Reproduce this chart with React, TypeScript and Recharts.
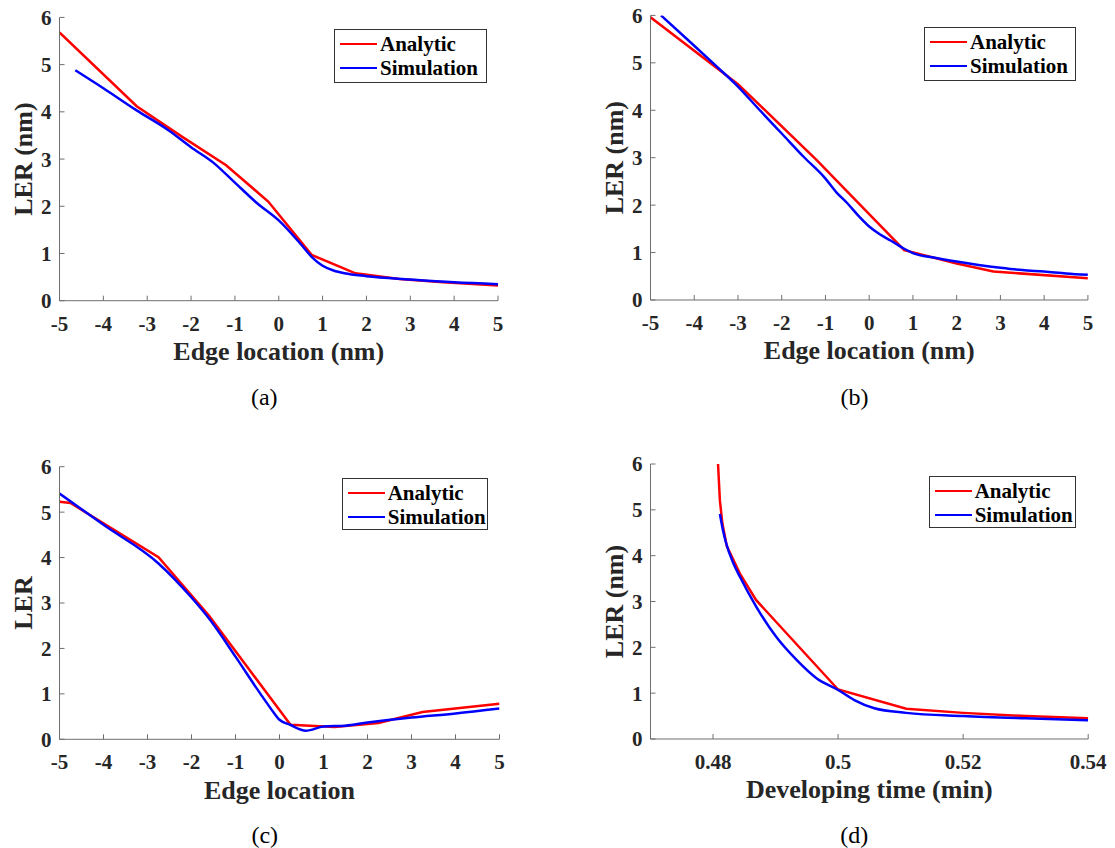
import React from 'react';
import { LineChart, Line, XAxis, YAxis, Legend, Label } from 'recharts';

// ---------- data ----------
const edgeTicks = [-5, -4, -3, -2, -1, 0, 1, 2, 3, 4, 5];
const lerTicks = [0, 1, 2, 3, 4, 5, 6];
const timeTicks = [0.48, 0.5, 0.52, 0.54];

// (a)
const aAnalyticX = [-5, -3.24, -2.2, -1.2, -0.24, 0.75, 1.75, 2.75, 3.75, 5];
const aAnalyticY = [5.68, 4.12, 3.47, 2.87, 2.1, 0.97, 0.58, 0.46, 0.39, 0.32];
const aSimX = [-4.64, -4, -3.24, -2.5, -2, -1.5, -1, -0.5, 0, 0.5, 0.75, 1, 1.25, 1.5, 2, 3, 4, 5];
const aSimY = [4.88, 4.5, 4.03, 3.6, 3.25, 2.93, 2.5, 2.07, 1.7, 1.2, 0.93, 0.74, 0.64, 0.58, 0.52, 0.45, 0.39, 0.35];

// (b)
const bAnalyticX = [-5, -3, -1.2, 0.8, 2, 2.84, 5];
const bAnalyticY = [5.96, 4.55, 2.95, 1.05, 0.77, 0.6, 0.46];
const bSimX = [-4.76, -4, -3.52, -3, -2.5, -2, -1.5, -1, -0.75, -0.5, -0.25, 0, 0.25, 0.5, 0.8, 1, 1.5, 2, 2.5, 3, 3.5, 4, 4.5, 5];
const bSimY = [6.0, 5.36, 4.95, 4.5, 4.0, 3.51, 3.02, 2.56, 2.27, 2.04, 1.78, 1.55, 1.38, 1.25, 1.08, 0.99, 0.89, 0.81, 0.74, 0.68, 0.63, 0.6, 0.56, 0.53];

// (c)
const cAnalyticX = [-5, -4.75, -2.75, -1.6, 0.25, 1.25, 2.25, 3.25, 5];
const cAnalyticY = [5.23, 5.2, 4.01, 2.72, 0.32, 0.27, 0.36, 0.6, 0.78];
const cSimX = [-5, -4, -2.75, -2, -1.58, -1, -0.44, -0.2, 0, 0.24, 0.6, 1, 1.5, 2, 3, 4, 5];
const cSimY = [5.41, 4.72, 3.87, 3.12, 2.63, 1.82, 1.01, 0.68, 0.43, 0.32, 0.19, 0.28, 0.3, 0.37, 0.48, 0.57, 0.68];

// (d)
const dAnalyticX = [0.4808, 0.4811, 0.4815, 0.4822, 0.4843, 0.4869, 0.5, 0.5109, 0.52, 0.53, 0.54];
const dAnalyticY = [6.0, 5.2, 4.7, 4.21, 3.61, 3.03, 1.08, 0.66, 0.57, 0.5, 0.45];
const dSimX = [0.4811, 0.4816, 0.4821, 0.4832, 0.4843, 0.4869, 0.4901, 0.4934, 0.4966, 0.5, 0.5026, 0.5058, 0.5109, 0.52, 0.53, 0.54];
const dSimY = [4.91, 4.55, 4.27, 3.85, 3.54, 2.89, 2.23, 1.72, 1.32, 1.07, 0.85, 0.67, 0.57, 0.5, 0.45, 0.41];

const zip = (xs: number[], ys: number[]) => xs.map((x, i) => ({ x, y: ys[i] }));

const FONT = "'Liberation Serif', 'DejaVu Serif', Times, serif";
const AXIS = '#6e6e6e';
const TEXT = '#262626';

type PanelProps = {
  plotL: number; plotR: number; plotT: number; plotB: number;
  top: number; boxH: number;
  xDomain: [number, number]; xTicks: number[];
  xLabel: string; yLabel: string; caption: string;
  legend: { x: number; y: number; w: number; h: number };
  analytic: { x: number; y: number }[];
  simulation: { x: number; y: number }[];
};

const Y_W = 59.5;

const LegendBox = (props: any) => {
  const payload = props.payload || [];
  return (
    <div style={{ width: '100%', height: '100%', boxSizing: 'border-box', border: '1px solid #333', background: '#fff', paddingTop: 2 }}>
      {payload.map((p: any) => (
        <div key={p.value} style={{ display: 'flex', alignItems: 'center', height: 24 }}>
          <div style={{ marginLeft: 5, width: 37, height: 2, background: p.color }} />
          <span style={{ marginLeft: 3, fontFamily: FONT, fontWeight: 700, fontSize: 21, color: '#000', lineHeight: '24px' }}>{p.value}</span>
        </div>
      ))}
    </div>
  );
};

const Panel = (p: PanelProps) => {
  const left = p.plotL - Y_W;
  const width = p.plotR - left + 22;
  const xH = p.top + p.boxH - p.plotB;
  const tickStyle = { fontFamily: FONT, fontWeight: 700, fontSize: 21, fill: TEXT };
  const captionX = (p.plotL + p.plotR) / 2 - 14.5;
  return (
    <>
      <div style={{ position: 'absolute', left, top: p.top, fontFamily: FONT }}>
        <LineChart width={width} height={p.boxH} margin={{ top: p.plotT - p.top, right: 22, bottom: 0, left: 0 }} style={{ fontFamily: FONT }}>
          <XAxis type="number" dataKey="x" domain={p.xDomain} ticks={p.xTicks} interval={0} allowDataOverflow
            height={xH} stroke={AXIS} tickSize={-5} tickMargin={20} tick={tickStyle}>
            <Label value={p.xLabel} position="insideTop" offset={41}
              style={{ fontFamily: FONT, fontWeight: 700, fontSize: 26, fill: TEXT }} />
          </XAxis>
          <YAxis type="number" domain={[0, 6]} ticks={lerTicks} interval={0} allowDataOverflow
            width={Y_W} stroke={AXIS} tickSize={-5} tickMargin={13} tick={tickStyle}>
            <Label value={p.yLabel} position="insideLeft" angle={-90} offset={23}
              style={{ fontFamily: FONT, fontWeight: 700, fontSize: 26, fill: TEXT, textAnchor: 'middle' }} />
          </YAxis>
          <Legend content={LegendBox} layout="horizontal" verticalAlign="middle" align="center"
            wrapperStyle={{ left: p.legend.x - left, top: p.legend.y - p.top, width: p.legend.w, height: p.legend.h }} />
          <Line name="Analytic" data={p.analytic} dataKey="y" type="linear" stroke="#ff0000" strokeWidth={2.5} dot={false} isAnimationActive={false} />
          <Line name="Simulation" data={p.simulation} dataKey="y" type="monotone" stroke="#0000ff" strokeWidth={2.5} dot={false} isAnimationActive={false} />
        </LineChart>
      </div>
      <div style={{ position: 'absolute', left: captionX - 50, width: 100, top: p.top + p.boxH - (p.top === 0 ? 36 : 26), textAlign: 'center', fontFamily: FONT, fontSize: 24, lineHeight: '26px', color: '#000' }}>
        {p.caption}
      </div>
    </>
  );
};

export default function App() {
  return (
    <div style={{ position: 'absolute', left: 0, top: 0, width: 1115, height: 848, background: '#fff', overflow: 'hidden' }}>
      <Panel plotL={59.5} plotR={498} plotT={17.4} plotB={300.7} top={0} boxH={420}
        xDomain={[-5, 5]} xTicks={edgeTicks} xLabel="Edge location (nm)" yLabel="LER (nm)" caption="(a)"
        legend={{ x: 334, y: 29, w: 152.5, h: 54 }}
        analytic={zip(aAnalyticX, aAnalyticY)} simulation={zip(aSimX, aSimY)} />
      <Panel plotL={650.3} plotR={1087.7} plotT={15.4} plotB={300} top={0} boxH={420}
        xDomain={[-5, 5]} xTicks={edgeTicks} xLabel="Edge location (nm)" yLabel="LER (nm)" caption="(b)"
        legend={{ x: 924, y: 27.3, w: 152, h: 54 }}
        analytic={zip(bAnalyticX, bAnalyticY)} simulation={zip(bSimX, bSimY)} />
      <Panel plotL={59.3} plotR={499.3} plotT={466.7} plotB={739.3} top={440} boxH={408}
        xDomain={[-5, 5]} xTicks={edgeTicks} xLabel="Edge location" yLabel="LER" caption="(c)"
        legend={{ x: 341.7, y: 478.3, w: 146.6, h: 52 }}
        analytic={zip(cAnalyticX, cAnalyticY)} simulation={zip(cSimX, cSimY)} />
      <Panel plotL={650} plotR={1087.7} plotT={464} plotB={739} top={440} boxH={408}
        xDomain={[0.47, 0.54]} xTicks={timeTicks} xLabel="Developing time (min)" yLabel="LER (nm)" caption="(d)"
        legend={{ x: 928.7, y: 475.7, w: 147, h: 52 }}
        analytic={zip(dAnalyticX, dAnalyticY)} simulation={zip(dSimX, dSimY)} />
    </div>
  );
}
